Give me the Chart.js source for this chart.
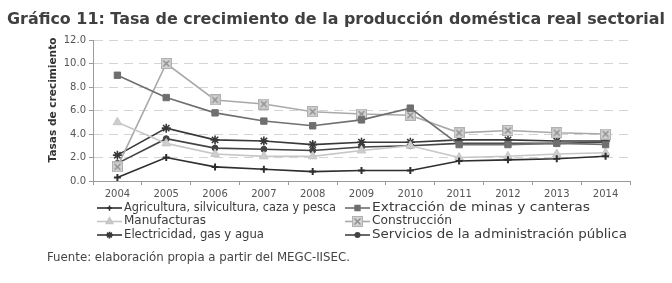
<!DOCTYPE html>
<html><head><meta charset="utf-8">
<script src="https://cdn.jsdelivr.net/npm/chart.js@4.4.0/dist/chart.umd.min.js"></script>
<style>
html,body{margin:0;padding:0;background:#fff;width:672px;height:283px;overflow:hidden}
#wrap{position:relative;width:672px;height:283px}
canvas{position:absolute;left:0;top:0}
</style></head><body>
<div id="wrap"><canvas id="c" width="672" height="283"></canvas></div>
<script>
const TITLE = "Gráfico 11: Tasa de crecimiento de la producción doméstica real sectorial";
const Y_TITLE = "Tasas de crecimiento";
const SOURCE = "Fuente: elaboración propia a partir del MEGC-IISEC.";
const years = ["2004","2005","2006","2007","2008","2009","2010","2011","2012","2013","2014"];
const seriesNames = [
  "Agricultura, silvicultura, caza y pesca",
  "Extracción de minas y canteras",
  "Manufacturas",
  "Construcción",
  "Electricidad, gas y agua",
  "Servicios de la administración pública"
];
const agricultura  = [0.3, 2.0, 1.2, 1.0, 0.8, 0.9, 0.9, 1.7, 1.8, 1.9, 2.1];
const extraccion   = [9.0, 7.1, 5.8, 5.1, 4.7, 5.2, 6.2, 3.1, 3.1, 3.2, 3.1];
const manufacturas = [5.0, 3.2, 2.3, 2.1, 2.1, 2.6, 3.0, 2.0, 2.1, 2.3, 2.4];
const construccion = [1.2, 10.0, 6.9, 6.55, 5.9, 5.7, 5.6, 4.1, 4.3, 4.1, 4.0];
const electricidad = [2.2, 4.5, 3.5, 3.4, 3.1, 3.3, 3.3, 3.5, 3.5, 3.4, 3.4];
const servicios    = [1.5, 3.6, 2.8, 2.7, 2.6, 2.9, 3.0, 3.2, 3.2, 3.2, 3.3];
const yMin = 0, yMax = 12, yStep = 2;

const FAMILY = "'DejaVu Sans', sans-serif";
// approximate rendered widths of the legend texts in the reference (layout only)
const legendTextWidths = [212, 218, 82, 80, 140, 255];

function fitSize(text, target, weight) {
  const c = document.createElement('canvas').getContext('2d');
  c.font = weight + " 100px " + FAMILY;
  return 100 * target / c.measureText(text).width;
}

function makeXSquare() {
  const cv = document.createElement('canvas');
  cv.width = 11; cv.height = 11;
  const g = cv.getContext('2d');
  g.fillStyle = '#d2d2d2';
  g.fillRect(0.5, 0.5, 10, 10);
  g.strokeStyle = '#b0b0b0';
  g.lineWidth = 1;
  g.strokeRect(0.5, 0.5, 10, 10);
  g.strokeStyle = '#8c8c8c';
  g.lineWidth = 1.3;
  g.beginPath();
  g.moveTo(2.5, 2.5); g.lineTo(8.5, 8.5);
  g.moveTo(8.5, 2.5); g.lineTo(2.5, 8.5);
  g.stroke();
  return cv;
}
const xSquare = makeXSquare();

const titleSize = fitSize(TITLE, 658, 'bold');
const sourceSize = fitSize(SOURCE, 303, 'normal');
const yTitleSize = fitSize(Y_TITLE, 125, 'bold');
const legendFont = 11.5;

const datasets = [
  {label: seriesNames[0], data: agricultura, borderColor:'#2e2e2e', backgroundColor:'#2e2e2e', pointStyle:'cross', pointRadius:3.5, pointBorderWidth:2},
  {label: seriesNames[1], data: extraccion, borderColor:'#6f6f6f', backgroundColor:'#6f6f6f', pointStyle:'rect', pointRadius:4.5, pointBorderWidth:1},
  {label: seriesNames[2], data: manufacturas, borderColor:'#c6c6c6', backgroundColor:'#cdcdcd', pointStyle:'triangle', pointRadius:5, pointBorderWidth:1},
  {label: seriesNames[3], data: construccion, borderColor:'#a9a9a9', backgroundColor:'#d2d2d2', pointStyle:xSquare, pointRadius:5.5, pointBorderWidth:1},
  {label: seriesNames[4], data: electricidad, borderColor:'#383838', backgroundColor:'#383838', pointStyle:'star', pointRadius:4.5, pointBorderWidth:1.6},
  {label: seriesNames[5], data: servicios, borderColor:'#444444', backgroundColor:'#444444', pointStyle:'circle', pointRadius:3, pointBorderWidth:1}
].map(d => Object.assign({borderWidth:1.6, tension:0, fill:false, pointHoverRadius:d.pointRadius}, d));

const extras = {
  id: 'extras',
  afterDraw(chart) {
    const ctx = chart.ctx;
    ctx.save();
    ctx.fillStyle = '#404040';
    ctx.font = 'bold ' + titleSize.toFixed(2) + 'px ' + FAMILY;
    ctx.textAlign = 'left';
    ctx.textBaseline = 'alphabetic';
    ctx.fillText(TITLE, 7, 24);

    ctx.save();
    ctx.translate(53, 100);
    ctx.rotate(-Math.PI / 2);
    ctx.font = 'bold ' + yTitleSize.toFixed(2) + 'px ' + FAMILY;
    ctx.textAlign = 'center';
    ctx.textBaseline = 'middle';
    ctx.fillStyle = '#333';
    ctx.fillText(Y_TITLE, 0, 0);
    ctx.restore();

    const cols = [97, 345];
    const rows = [208, 221.5, 235];
    chart.data.datasets.forEach((ds, i) => {
      const x0 = cols[i % 2];
      const y = rows[Math.floor(i / 2)];
      ctx.strokeStyle = ds.borderColor;
      ctx.lineWidth = 1.6;
      ctx.beginPath();
      ctx.moveTo(x0, y); ctx.lineTo(x0 + 25, y);
      ctx.stroke();
      ctx.fillStyle = ds.backgroundColor;
      ctx.strokeStyle = ds.borderColor;
      Chart.helpers.drawPoint(ctx, {
        pointStyle: ds.pointStyle,
        radius: ds.pointRadius * 0.75,
        rotation: 0,
        borderWidth: ds.pointBorderWidth
      }, x0 + 12.5, y);
      ctx.fillStyle = '#3a3a3a';
      ctx.font = legendFont + 'px ' + FAMILY;
      ctx.textAlign = 'left';
      ctx.textBaseline = 'middle';
      const natural = ctx.measureText(ds.label).width;
      const target = legendTextWidths[i];
      ctx.save();
      ctx.translate(x0 + 27, y);
      ctx.scale(target / natural, 1);
      ctx.fillText(ds.label, 0, 0);
      ctx.restore();
    });

    ctx.fillStyle = '#444';
    ctx.font = sourceSize.toFixed(2) + 'px ' + FAMILY;
    ctx.textAlign = 'left';
    ctx.textBaseline = 'middle';
    ctx.fillText(SOURCE, 47, 258);
    ctx.restore();
  }
};

new Chart(document.getElementById('c'), {
  type: 'line',
  data: { labels: years, datasets: datasets },
  plugins: [extras],
  options: {
    responsive: false,
    animation: false,
    devicePixelRatio: 1,
    layout: { padding: { left: 0, right: 42, top: 40, bottom: 82 } },
    plugins: { legend: { display: false }, title: { display: false }, tooltip: { enabled: false } },
    scales: {
      x: {
        type: 'category',
        offset: true,
        grid: { display: true, offset: true, drawOnChartArea: false, drawTicks: true, tickLength: 4, color: '#9a9a9a' },
        border: { display: true, color: '#9a9a9a', width: 1 },
        ticks: { color: '#555', font: { family: FAMILY, size: 10 }, padding: 3, maxRotation: 0, autoSkip: false },
        afterFit(s) { s.height = 20; }
      },
      y: {
        min: yMin, max: yMax,
        ticks: { stepSize: yStep, color: '#555', font: { family: FAMILY, size: 10 }, padding: 3,
                 callback: v => Number(v).toFixed(1) },
        grid: {
          color: ctx => ctx.tick && ctx.tick.value === 0 ? 'rgba(0,0,0,0)' : '#d4d4d4',
          tickColor: '#9a9a9a',
          tickLength: 4,
          drawTicks: true,
          tickBorderDash: []
        },
        border: { display: true, color: '#9a9a9a', dash: [9, 6], width: 1 },
        afterFit(s) { s.width = 93; }
      }
    }
  }
});
</script>
</body></html>
